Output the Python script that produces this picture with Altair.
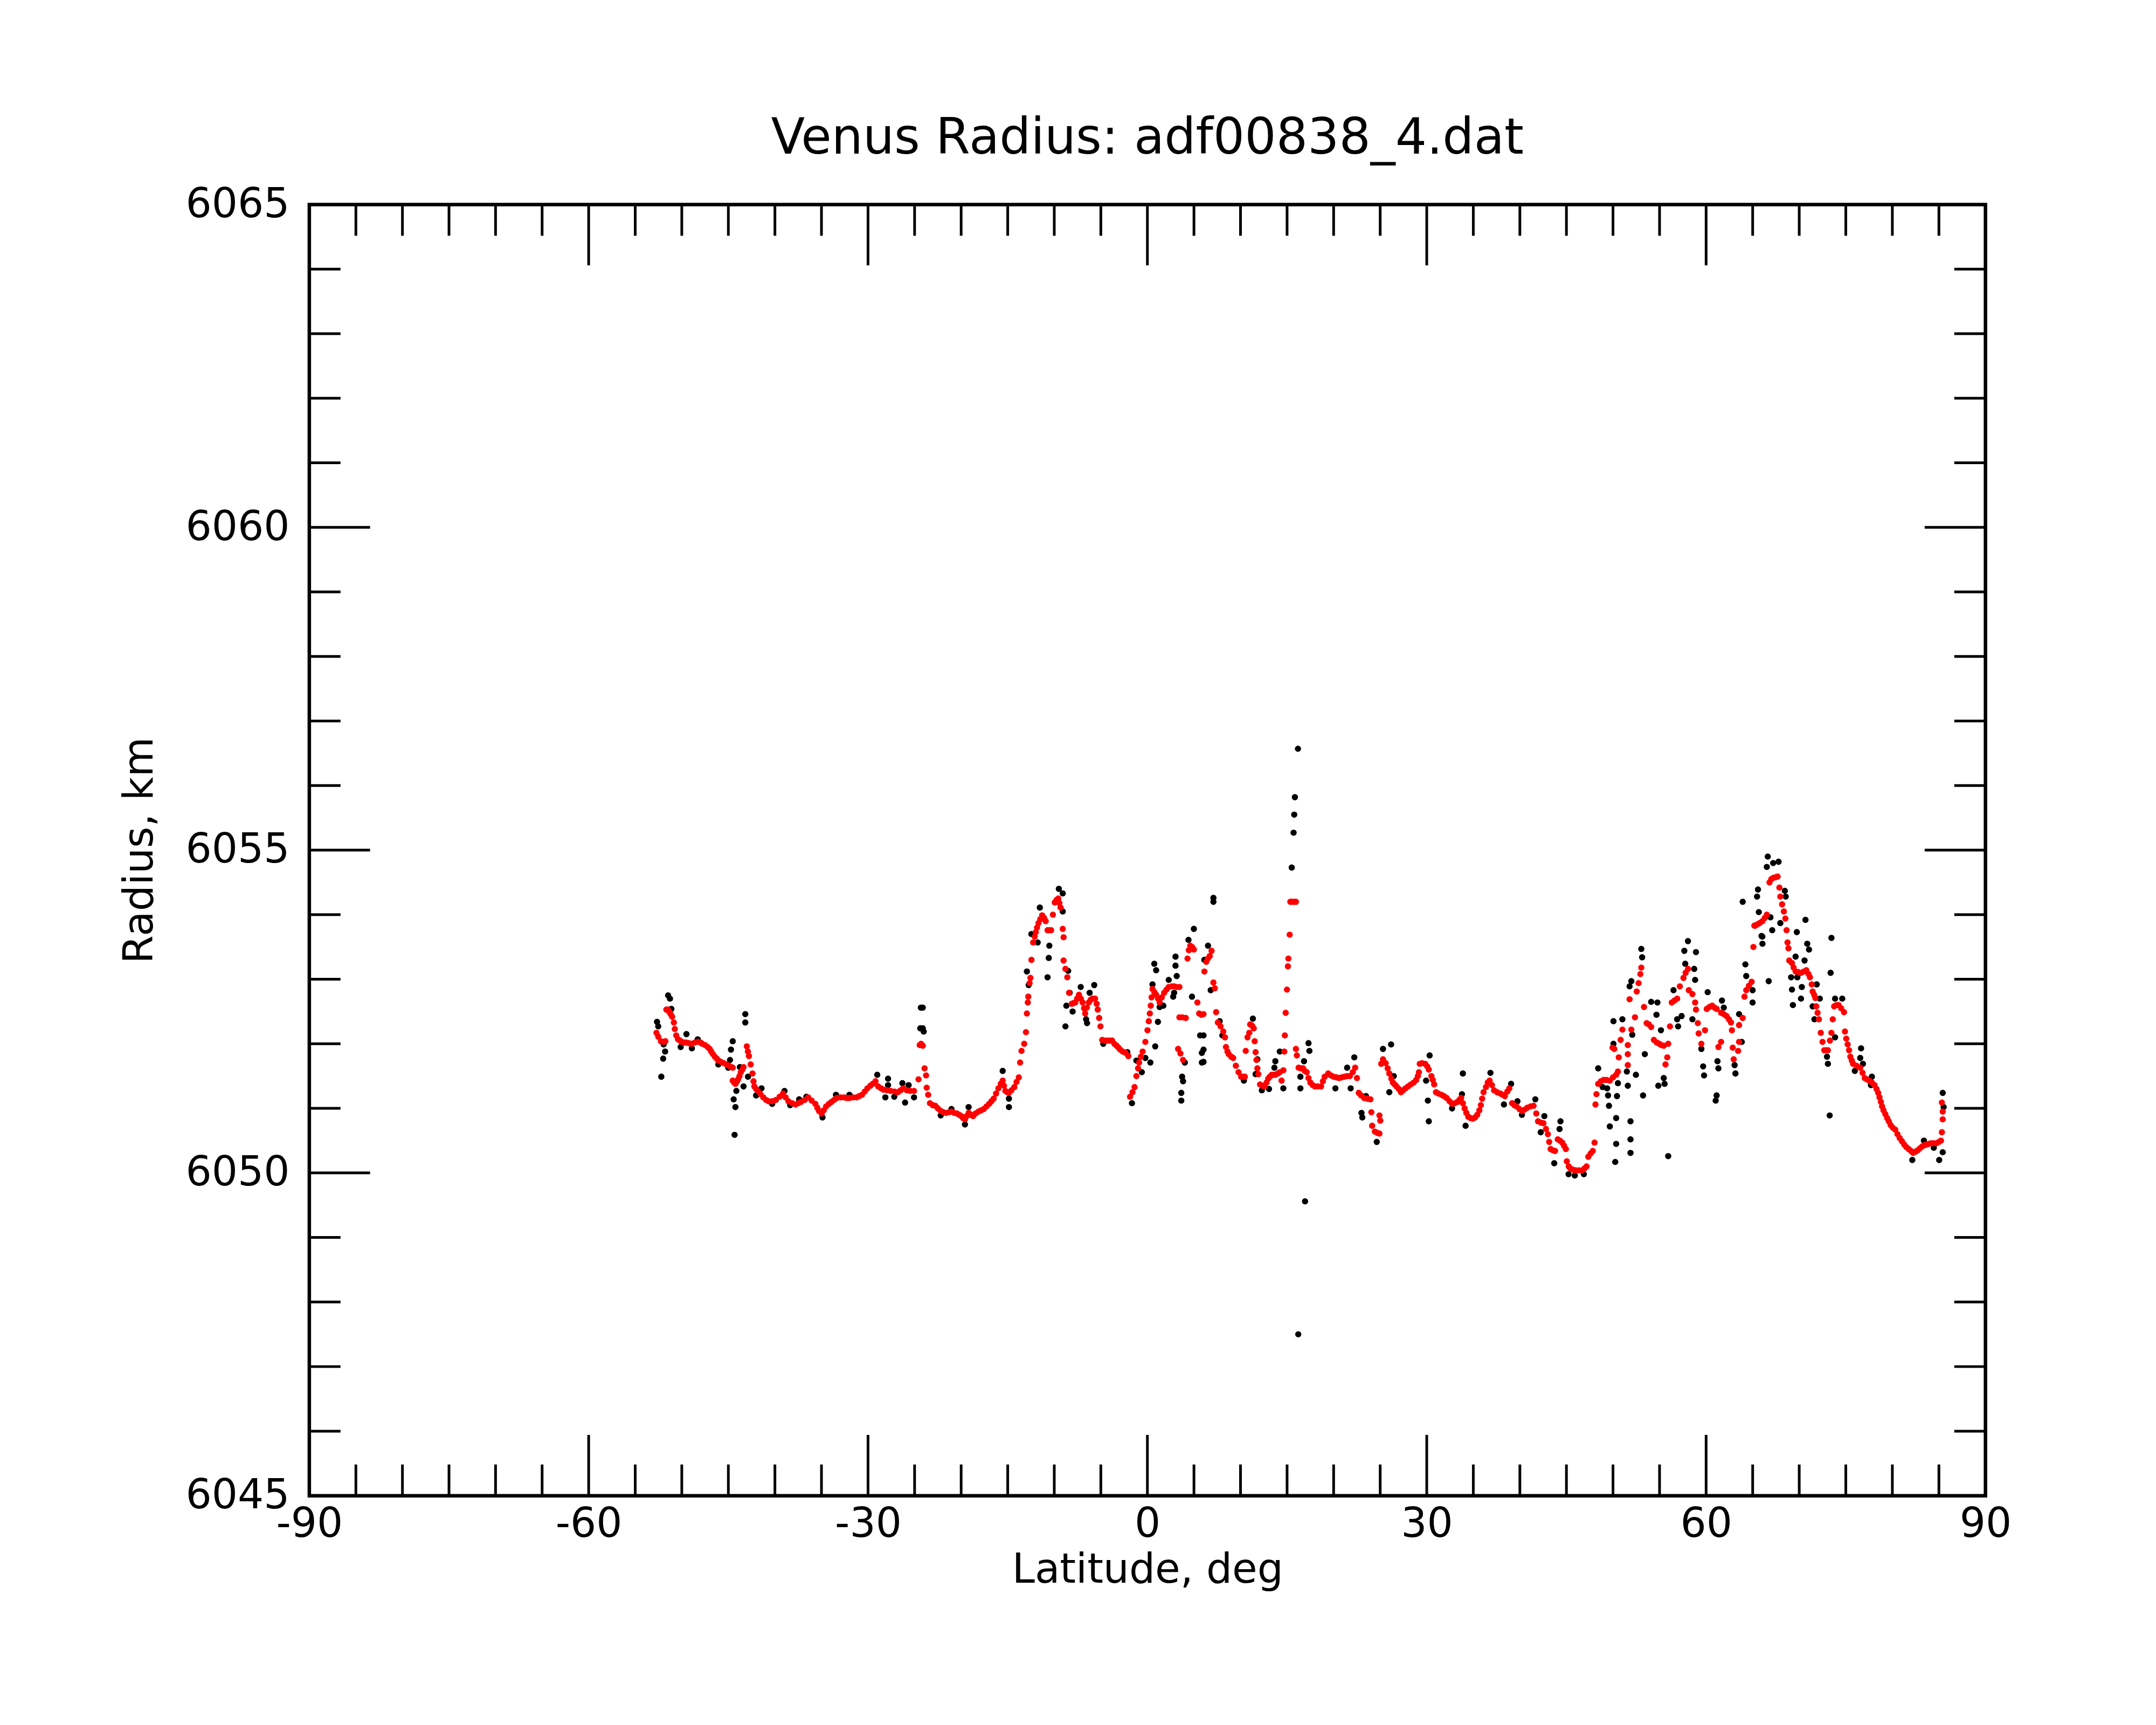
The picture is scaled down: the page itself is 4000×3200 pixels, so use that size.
import altair as alt
import pandas as pd

# ---------------- data ----------------
# smoothed radius (red), (latitude deg, radius km)
red_south = [
    (-52.72, 6052.17), (-52.53, 6052.11), (-52.24, 6052.04), (-51.95, 6052.03), (-51.76, 6052.04),
    (-51.66, 6052.53), (-51.5, 6052.53), (-51.37, 6052.50), (-51.2, 6052.46), (-51.04, 6052.42),
    (-50.85, 6052.33), (-50.75, 6052.23), (-50.6, 6052.13), (-50.41, 6052.07), (-50.2, 6052.05),
    (-50.02, 6052.03), (-49.75, 6052.02), (-49.54, 6052.02), (-49.25, 6052.01), (-48.96, 6052.0),
    (-48.6, 6052.02), (-48.29, 6052.03), (-48.0, 6052.02), (-47.8, 6052.0), (-47.5, 6051.98),
    (-47.22, 6051.95), (-47.0, 6051.92), (-46.84, 6051.88), (-46.65, 6051.84), (-46.45, 6051.80),
    (-46.25, 6051.77), (-46.07, 6051.74), (-45.8, 6051.72), (-45.49, 6051.70), (-45.2, 6051.68),
    (-44.91, 6051.66), (-44.7, 6051.64), (-44.53, 6051.63), (-44.53, 6051.43), (-44.38, 6051.40),
    (-44.24, 6051.38), (-44.1, 6051.41), (-43.95, 6051.45), (-43.8, 6051.50), (-43.66, 6051.56),
    (-43.5, 6051.60), (-43.37, 6051.64), (-43.02, 6051.96), (-42.9, 6051.88), (-42.79, 6051.81),
    (-42.6, 6051.68), (-42.41, 6051.54), (-42.3, 6051.42), (-42.21, 6051.34), (-42.02, 6051.30),
    (-41.83, 6051.27), (-41.55, 6051.22), (-41.25, 6051.17), (-40.95, 6051.13), (-40.67, 6051.11),
    (-40.3, 6051.11), (-39.9, 6051.13), (-39.5, 6051.18), (-39.13, 6051.23), (-38.85, 6051.17),
    (-38.55, 6051.11), (-38.15, 6051.08), (-37.78, 6051.06), (-37.5, 6051.08), (-37.2, 6051.10),
    (-36.8, 6051.13), (-36.43, 6051.17), (-36.05, 6051.12), (-35.66, 6051.07), (-35.45, 6051.01),
    (-35.27, 6050.96), (-34.99, 6050.92), (-34.75, 6050.97), (-34.5, 6051.03), (-34.2, 6051.07),
    (-33.93, 6051.10), (-33.65, 6051.13), (-33.35, 6051.16), (-32.95, 6051.17), (-32.58, 6051.17),
    (-32.3, 6051.16), (-32.0, 6051.16), (-31.6, 6051.17), (-31.23, 6051.17), (-30.95, 6051.19),
    (-30.65, 6051.21), (-30.35, 6051.26), (-30.07, 6051.31), (-29.75, 6051.35), (-29.49, 6051.38),
    (-29.2, 6051.42), (-28.91, 6051.34), (-28.6, 6051.31), (-28.34, 6051.29), (-27.95, 6051.28),
    (-27.56, 6051.27), (-27.15, 6051.26), (-26.79, 6051.25), (-26.5, 6051.28), (-26.22, 6051.31),
    (-25.83, 6051.28), (-25.45, 6051.27), (-25.06, 6051.27), (-24.58, 6051.45), (-24.45, 6051.98),
    (-24.3, 6052.0), (-24.12, 6051.97), (-23.93, 6051.62), (-23.77, 6051.51), (-23.7, 6051.32),
    (-23.54, 6051.21), (-23.35, 6051.08), (-23.05, 6051.05), (-22.77, 6051.04), (-22.5, 6051.0),
    (-22.19, 6050.96), (-21.9, 6050.94), (-21.61, 6050.93), (-21.3, 6050.94), (-21.04, 6050.95),
    (-20.75, 6050.93), (-20.46, 6050.92), (-20.2, 6050.90), (-19.98, 6050.88), (-19.8, 6050.85),
    (-19.59, 6050.83), (-19.4, 6050.88), (-19.19, 6050.93), (-18.95, 6050.90), (-18.72, 6050.88),
    (-18.45, 6050.92), (-18.14, 6050.95), (-17.85, 6050.97), (-17.57, 6050.99), (-17.28, 6051.03),
    (-16.99, 6051.07), (-16.75, 6051.11), (-16.51, 6051.15), (-16.25, 6051.23), (-16.0, 6051.31),
    (-15.75, 6051.38), (-15.54, 6051.43), (-15.4, 6051.35), (-15.25, 6051.27), (-15.05, 6051.25),
    (-14.87, 6051.24), (-14.6, 6051.28), (-14.29, 6051.33), (-14.05, 6051.41), (-13.81, 6051.48),
    (-13.67, 6051.71), (-13.52, 6051.89), (-13.23, 6052.0), (-13.04, 6052.18), (-12.94, 6052.47),
    (-12.84, 6052.64), (-12.79, 6052.73), (-12.65, 6052.94), (-12.56, 6053.02), (-12.45, 6053.3),
    (-12.27, 6053.57), (-12.1, 6053.66), (-11.98, 6053.73), (-11.85, 6053.80), (-11.69, 6053.87),
    (-11.5, 6053.93), (-11.3, 6053.99), (-11.1, 6053.95), (-10.92, 6053.90), (-10.72, 6053.76),
    (-10.55, 6053.76), (-10.34, 6053.76), (-10.15, 6054.0), (-9.95, 6054.19), (-9.75, 6054.23),
    (-9.57, 6054.25), (-9.45, 6054.18), (-9.32, 6054.11), (-9.09, 6053.78), (-9.0, 6053.65),
    (-9.0, 6053.29), (-8.8, 6053.16), (-8.6, 6053.03), (-8.41, 6052.79), (-8.12, 6052.62),
    (-7.95, 6052.63), (-7.74, 6052.64), (-7.55, 6052.70), (-7.35, 6052.76), (-7.15, 6052.70),
    (-6.96, 6052.64), (-6.8, 6052.55), (-6.68, 6052.47), (-6.5, 6052.56), (-6.29, 6052.64),
    (-6.1, 6052.68), (-5.9, 6052.70), (-5.62, 6052.70), (-5.45, 6052.62), (-5.33, 6052.53),
    (-5.18, 6052.40), (-5.04, 6052.27), (-4.85, 6052.06), (-4.55, 6052.05), (-4.27, 6052.05),
    (-4.0, 6052.05), (-3.79, 6052.05), (-3.55, 6052.0), (-3.3, 6051.97), (-3.1, 6051.94),
    (-2.92, 6051.91), (-2.65, 6051.88), (-2.34, 6051.86), (-2.05, 6051.81),
]
red_equator = [
    (-1.86, 6051.18), (-1.6, 6051.25), (-1.38, 6051.33), (-1.18, 6051.50), (-1.0, 6051.62),
    (-0.89, 6051.71), (-0.7, 6051.80), (-0.51, 6051.88), (-0.22, 6052.03), (0.01, 6052.21),
    (0.15, 6052.35), (0.26, 6052.47), (0.36, 6052.59), (0.45, 6052.72), (0.55, 6052.85),
    (0.75, 6052.80), (0.94, 6052.76), (1.15, 6052.70), (1.32, 6052.64), (1.55, 6052.72),
    (1.8, 6052.79), (2.05, 6052.84), (2.29, 6052.88), (2.6, 6052.89), (2.87, 6052.89),
    (3.15, 6052.88), (3.44, 6052.88), (3.44, 6052.41), (3.75, 6052.41), (4.12, 6052.40),
    (3.3, 6051.92), (3.55, 6051.85), (3.83, 6051.75), (4.31, 6053.32), (4.45, 6053.45),
    (4.6, 6053.52), (4.8, 6053.50), (4.99, 6053.46), (5.37, 6052.64), (5.56, 6052.47),
    (5.8, 6052.45), (6.03, 6052.46), (6.12, 6053.12), (6.32, 6053.27), (6.5, 6053.32),
    (6.7, 6053.36), (6.89, 6053.44), (7.09, 6052.95), (7.24, 6052.86), (7.38, 6052.49),
    (7.57, 6052.33), (7.86, 6052.27), (8.15, 6052.19), (8.34, 6052.10), (8.44, 6051.95),
    (8.6, 6051.88), (8.73, 6051.84), (9.0, 6051.80), (9.21, 6051.78), (9.5, 6051.66),
    (9.79, 6051.56), (10.07, 6051.49), (10.3, 6051.49), (10.46, 6051.49), (10.56, 6051.89),
    (10.75, 6052.10), (10.94, 6052.17), (11.04, 6052.30), (11.25, 6052.28), (11.42, 6052.24),
    (11.52, 6052.04), (11.62, 6051.87), (11.71, 6051.75), (11.81, 6051.62), (11.91, 6051.53),
    (12.1, 6051.37), (12.35, 6051.35), (12.58, 6051.34), (12.8, 6051.40), (12.97, 6051.46),
    (13.15, 6051.49), (13.35, 6051.52), (13.55, 6051.52), (13.74, 6051.52), (14.0, 6051.54),
    (14.22, 6051.56), (14.41, 6051.43), (14.6, 6051.59), (14.7, 6051.88), (14.76, 6052.13),
    (14.85, 6052.48), (14.99, 6052.84), (15.09, 6053.2), (15.14, 6053.32), (15.28, 6053.69),
    (15.35, 6054.2), (15.55, 6054.2), (15.75, 6054.2), (15.95, 6054.2),
    (15.95, 6051.92), (16.05, 6051.82), (16.24, 6051.63), (16.5, 6051.62), (16.72, 6051.62),
    (16.9, 6051.58), (17.11, 6051.56), (17.3, 6051.47), (17.5, 6051.40), (17.75, 6051.36),
    (17.98, 6051.34), (18.3, 6051.34), (18.65, 6051.34), (18.85, 6051.42), (19.04, 6051.49),
    (19.42, 6051.54), (19.7, 6051.51), (20.0, 6051.49), (20.3, 6051.48), (20.58, 6051.47),
    (20.85, 6051.48), (21.16, 6051.49), (21.45, 6051.50), (21.74, 6051.50), (22.05, 6051.56),
    (22.31, 6051.63), (22.51, 6051.47), (22.7, 6051.24), (22.95, 6051.20), (23.28, 6051.16),
    (23.6, 6051.15), (23.95, 6051.14), (24.05, 6050.94), (24.14, 6050.73), (24.43, 6050.64),
    (24.7, 6050.62), (24.92, 6050.61), (24.92, 6050.89), (25.01, 6050.81), (25.11, 6051.69),
    (25.3, 6051.76), (25.59, 6051.70), (25.8, 6051.62), (25.98, 6051.54), (26.2, 6051.46),
    (26.36, 6051.40), (26.55, 6051.37), (26.75, 6051.34), (27.0, 6051.30), (27.23, 6051.25),
    (27.45, 6051.28), (27.71, 6051.31), (28.0, 6051.34), (28.29, 6051.37), (28.6, 6051.40),
    (28.87, 6051.44), (29.05, 6051.50), (29.16, 6051.56), (29.25, 6051.69), (29.5, 6051.70),
    (29.83, 6051.69), (30.05, 6051.65), (30.22, 6051.6), (30.5, 6051.5), (30.65, 6051.44),
    (30.8, 6051.37), (30.99, 6051.25), (31.25, 6051.23), (31.57, 6051.21), (31.85, 6051.19),
    (32.14, 6051.16), (32.45, 6051.11), (32.72, 6051.07), (33.0, 6051.08), (33.3, 6051.10),
    (33.5, 6051.13), (33.69, 6051.16), (33.88, 6051.08), (34.07, 6051.0), (34.25, 6050.93),
    (34.46, 6050.87), (34.7, 6050.85), (34.94, 6050.84), (35.2, 6050.86), (35.42, 6050.90),
    (35.65, 6050.97), (35.81, 6051.05), (35.95, 6051.15), (36.1, 6051.25),
]
red_north = [
    (36.36, 6051.33), (36.55, 6051.40), (36.75, 6051.43), (37.0, 6051.36), (37.23, 6051.28),
    (37.55, 6051.25), (37.9, 6051.23), (38.15, 6051.21), (38.39, 6051.19), (38.65, 6051.26),
    (38.87, 6051.31), (39.16, 6051.08), (39.4, 6051.05), (39.64, 6051.03), (39.95, 6050.99),
    (40.22, 6050.96), (40.5, 6050.98), (40.8, 6051.01), (41.15, 6051.03), (41.47, 6051.04),
    (41.76, 6050.92), (41.95, 6050.80), (42.25, 6050.78), (42.53, 6050.77), (42.8, 6050.68),
    (43.01, 6050.6), (43.15, 6050.48), (43.3, 6050.37), (43.55, 6050.35), (43.78, 6050.34),
    (44.07, 6050.52), (44.3, 6050.50), (44.55, 6050.47), (44.75, 6050.42), (44.94, 6050.37),
    (45.04, 6050.18), (45.25, 6050.10), (45.42, 6050.07), (45.7, 6050.05), (46.0, 6050.04),
    (46.35, 6050.04), (46.68, 6050.04), (46.95, 6050.07), (47.16, 6050.1), (47.35, 6050.25),
    (47.6, 6050.30), (47.83, 6050.34), (48.02, 6050.47), (48.12, 6051.06), (48.22, 6051.22),
    (48.41, 6051.38), (48.7, 6051.42), (48.99, 6051.44), (49.3, 6051.44), (49.66, 6051.43),
    (50.0, 6051.48), (50.34, 6051.52), (50.53, 6051.57), (50.62, 6051.79), (49.95, 6051.94),
    (50.14, 6051.92), (50.82, 6052.06), (51.01, 6052.22), (51.59, 6051.98), (51.59, 6051.84),
    (51.59, 6051.67), (51.78, 6052.69), (51.97, 6052.22), (52.36, 6052.41), (52.55, 6052.81),
    (52.75, 6052.94), (52.94, 6053.08), (53.04, 6053.18), (53.33, 6052.57), (53.61, 6052.32),
    (53.85, 6052.30), (54.1, 6052.26), (54.39, 6052.06), (54.7, 6052.02), (54.97, 6052.0),
    (55.2, 6051.98), (55.45, 6051.97), (55.64, 6051.68), (55.83, 6051.79), (55.93, 6052.0),
    (56.12, 6052.27), (56.31, 6052.64), (56.6, 6052.67), (56.89, 6052.70), (57.18, 6052.89),
    (57.57, 6053.02), (57.8, 6053.10), (58.05, 6053.16), (58.14, 6052.83), (58.53, 6052.77),
    (58.82, 6052.64), (58.91, 6052.53), (59.11, 6052.32), (59.2, 6052.16), (59.49, 6052.0),
    (59.88, 6052.21), (60.07, 6052.54), (60.35, 6052.57), (60.65, 6052.59), (60.9, 6052.56),
    (61.13, 6052.54), (61.32, 6051.95), (61.61, 6052.03), (61.61, 6052.48), (61.9, 6052.46),
    (62.19, 6052.43), (62.45, 6052.38), (62.67, 6052.33), (62.77, 6052.21), (62.86, 6051.94),
    (62.96, 6051.76), (63.44, 6051.89), (63.54, 6052.03), (63.54, 6052.29), (63.93, 6052.4),
    (64.12, 6052.73), (64.31, 6052.83), (64.6, 6052.90), (64.89, 6052.96), (65.08, 6053.5),
    (65.18, 6053.83), (65.28, 6053.83), (65.5, 6053.85), (65.75, 6053.87), (66.04, 6053.90),
    (66.3, 6053.95), (66.52, 6054.0), (66.81, 6054.5), (67.0, 6054.55), (67.2, 6054.57),
    (67.45, 6054.58), (67.68, 6054.59), (67.87, 6054.42), (67.97, 6054.28), (68.16, 6054.16),
    (68.35, 6054.05), (68.51, 6053.94), (68.64, 6053.76), (68.74, 6053.57), (68.84, 6053.48),
    (68.93, 6053.29), (69.22, 6053.25), (69.4, 6053.18), (69.61, 6053.12), (69.9, 6053.11),
    (70.19, 6053.10), (70.5, 6053.12), (70.76, 6053.14), (71.0, 6053.08), (71.15, 6053.03),
    (71.34, 6052.92), (71.44, 6052.81), (71.6, 6052.76), (71.73, 6052.71), (71.83, 6052.58),
    (71.97, 6052.48), (72.11, 6052.38), (72.31, 6052.17), (72.5, 6052.03), (72.69, 6051.9),
    (72.9, 6051.9), (73.08, 6051.9), (73.3, 6052.05), (73.46, 6052.17), (73.6, 6052.38),
    (73.75, 6052.58), (74.0, 6052.60), (74.23, 6052.6), (74.5, 6052.55), (74.81, 6052.49),
    (74.91, 6052.19), (75.05, 6052.08), (75.2, 6051.99), (75.35, 6051.9), (75.49, 6051.8),
    (75.65, 6051.74), (75.78, 6051.69), (76.15, 6051.66), (76.55, 6051.63), (76.8, 6051.55),
    (77.03, 6051.47), (77.25, 6051.45), (77.51, 6051.43), (77.8, 6051.40), (78.09, 6051.36),
    (78.3, 6051.30), (78.48, 6051.24), (78.62, 6051.17), (78.77, 6051.1), (78.9, 6051.03),
    (79.05, 6050.97), (79.25, 6050.91), (79.44, 6050.85), (79.62, 6050.80), (79.82, 6050.74),
    (80.05, 6050.70), (80.31, 6050.67), (80.55, 6050.60), (80.79, 6050.54), (81.03, 6050.49),
    (81.27, 6050.44), (81.5, 6050.40), (81.75, 6050.37), (82.0, 6050.34), (82.23, 6050.31),
    (82.5, 6050.33), (82.72, 6050.35), (82.95, 6050.38), (83.2, 6050.41), (83.45, 6050.43),
    (83.68, 6050.44), (83.9, 6050.45), (84.16, 6050.46), (84.45, 6050.46), (84.74, 6050.46),
    (85.0, 6050.48), (85.22, 6050.5), (85.32, 6050.63), (85.41, 6050.83), (85.41, 6050.95),
    (85.32, 6051.09),
]

# raw radius (black), (latitude deg, radius km)
black_south = [
    (-52.66, 6052.34), (-52.53, 6052.27), (-51.95, 6051.99), (-51.79, 6051.88), (-52.0, 6051.77),
    (-52.2, 6051.49), (-51.47, 6052.75), (-51.27, 6052.70), (-51.12, 6052.54), (-50.12, 6051.95),
    (-49.5, 6052.15), (-48.92, 6051.93), (-48.29, 6052.07), (-46.07, 6051.68), (-45.01, 6051.63),
    (-44.53, 6052.04), (-44.72, 6051.91), (-44.82, 6051.75), (-44.14, 6051.27), (-44.43, 6051.14),
    (-44.24, 6051.02), (-44.33, 6050.59), (-43.18, 6052.46), (-43.18, 6052.33), (-42.89, 6051.49),
    (-43.37, 6051.34), (-43.76, 6051.64), (-42.02, 6051.2), (-41.44, 6051.31), (-40.29, 6051.07),
    (-38.97, 6051.27), (-38.36, 6051.05), (-37.4, 6051.14), (-36.62, 6051.18), (-34.89, 6050.86),
    (-33.44, 6051.21), (-32.0, 6051.21), (-29.01, 6051.52), (-27.85, 6051.46), (-27.85, 6051.36),
    (-28.14, 6051.17), (-27.18, 6051.18), (-26.31, 6051.39), (-25.64, 6051.36), (-26.02, 6051.09),
    (-25.06, 6051.17), (-24.33, 6052.56), (-24.39, 6052.24),
    (-24.12, 6052.56), (-24.12, 6052.24), (-24.02, 6052.19), (-14.87, 6051.02), (-14.87, 6051.15),
    (-15.54, 6051.58), (-19.59, 6050.75), (-19.2, 6051.02), (-21.04, 6050.99), (-22.19, 6050.89),
    (-12.94, 6053.12), (-12.75, 6052.91), (-12.46, 6053.7), (-11.78, 6053.57), (-11.55, 6054.11),
    (-10.53, 6053.52), (-10.59, 6053.33), (-10.72, 6053.03), (-9.51, 6054.40), (-9.09, 6054.33),
    (-9.09, 6054.05), (-8.51, 6053.13), (-8.35, 6052.79), (-8.8, 6052.27), (-8.7, 6052.59),
    (-8.03, 6052.50), (-7.16, 6052.88), (-6.48, 6052.32), (-6.58, 6052.38), (-5.71, 6052.91),
    (-6.2, 6052.79), (-4.74, 6052.0), (-2.15, 6051.87),
]
black_equator = [
    (-1.66, 6051.08), (-1.18, 6051.74), (-0.6, 6051.56), (-0.22, 6051.78), (0.32, 6051.71),
    (0.84, 6051.96), (1.13, 6052.34), (0.55, 6052.92), (0.74, 6053.24), (0.94, 6053.14),
    (1.32, 6052.57), (1.71, 6052.59), (2.29, 6052.99), (2.87, 6052.79), (2.77, 6052.73),
    (3.02, 6053.35), (3.02, 6053.21), (3.15, 6053.05), (3.73, 6051.49), (3.83, 6051.42),
    (3.64, 6051.24), (3.64, 6051.12), (4.02, 6051.71), (4.41, 6053.61), (4.99, 6053.78),
    (4.79, 6052.73), (5.66, 6052.13), (5.85, 6051.71), (5.85, 6051.86),
    (7.09, 6054.26), (7.09, 6054.2), (6.51, 6053.52), (6.12, 6053.3), (6.8, 6052.83),
    (6.03, 6052.13), (6.03, 6051.91), (6.03, 6051.72), (7.76, 6052.35), (8.05, 6052.13),
    (10.36, 6051.43), (11.33, 6052.39), (11.81, 6051.76), (11.62, 6051.53), (12.29, 6051.28),
    (13.06, 6051.3), (13.64, 6051.63), (13.74, 6051.73), (14.6, 6051.31), (14.22, 6051.88),
    (16.43, 6051.31), (16.43, 6051.49), (16.82, 6051.73), (17.3, 6052.01), (17.4, 6051.89),
    (20.19, 6051.31), (21.45, 6051.63), (22.22, 6051.79), (21.83, 6051.31), (22.99, 6050.93),
    (23.08, 6050.86), (23.47, 6051.19), (24.63, 6050.48), (25.3, 6051.92), (26.17, 6051.99),
    (25.98, 6051.25), (26.46, 6051.5), (30.31, 6051.82), (30.12, 6051.12), (30.22, 6050.8),
    (29.93, 6051.43), (33.88, 6051.54), (33.78, 6051.22), (34.17, 6050.73), (32.72, 6051.0),
]
black_spike = [
    (16.17, 6056.57), (15.84, 6055.82), (15.77, 6055.55), (15.7, 6055.27), (15.5, 6054.73),
    (16.93, 6049.56), (16.2, 6047.5),
]
black_north = [
    (36.84, 6051.55), (38.29, 6051.06), (39.06, 6051.38), (39.74, 6051.11), (40.22, 6050.9),
    (41.66, 6051.14), (42.63, 6050.88), (42.24, 6050.63), (44.36, 6050.8), (44.26, 6050.68),
    (43.69, 6050.15), (45.23, 6049.98), (45.9, 6049.96), (46.87, 6049.98), (48.41, 6051.62),
    (48.89, 6051.33), (49.37, 6051.31), (49.47, 6051.2), (49.57, 6051.04), (49.66, 6050.72),
    (50.34, 6050.85), (50.34, 6050.45), (50.24, 6050.17), (50.43, 6051.19), (50.53, 6051.39),
    (50.05, 6052.35), (51.01, 6052.38), (50.05, 6052.0), (51.49, 6051.57), (51.59, 6051.35),
    (51.88, 6050.8), (51.88, 6050.52), (51.88, 6050.31), (52.46, 6051.52), (52.07, 6052.14),
    (51.78, 6052.89), (51.97, 6052.97), (53.04, 6053.47), (53.13, 6053.34), (53.42, 6051.84),
    (53.23, 6051.2), (54.1, 6052.65), (54.77, 6052.64), (54.67, 6052.45), (55.15, 6052.21),
    (55.45, 6051.47), (54.87, 6051.35), (55.93, 6050.26), (55.54, 6051.38), (56.5, 6052.83),
    (56.89, 6052.38), (57.37, 6052.43), (56.99, 6052.27), (57.66, 6053.44), (58.05, 6053.59),
    (58.91, 6053.42), (57.76, 6053.24), (58.82, 6052.99), (58.72, 6053.16), (58.53, 6052.38),
    (59.49, 6051.92), (59.68, 6051.65), (59.78, 6051.51), (60.17, 6052.8), (61.7, 6052.67),
    (61.9, 6052.56), (61.22, 6051.73), (61.32, 6051.62), (61.13, 6051.2), (61.03, 6051.12),
    (63.06, 6051.67), (63.15, 6051.54), (63.54, 6052.46), (63.83, 6052.03), (63.93, 6054.2),
    (64.22, 6053.23), (64.31, 6053.05), (64.99, 6052.64), (64.99, 6052.83), (65.47, 6054.28),
    (65.57, 6054.39), (65.66, 6054.04), (65.95, 6053.67), (66.05, 6053.55),
    (66.72, 6052.97), (66.62, 6054.9), (66.52, 6054.74), (67.2, 6054.8), (67.78, 6054.82),
    (67.1, 6053.76), (66.04, 6053.66), (66.91, 6053.96), (67.97, 6053.87), (68.45, 6054.37),
    (68.55, 6054.28), (69.61, 6053.35), (69.13, 6053.03), (69.22, 6052.84), (69.32, 6052.6),
    (69.8, 6053.03), (70.28, 6052.88), (70.19, 6052.7), (70.57, 6053.29), (70.67, 6053.92),
    (70.86, 6053.55), (71.05, 6053.46), (69.74, 6053.73), (71.88, 6052.92), (71.44, 6052.58),
    (72.21, 6052.7), (71.63, 6052.38), (72.98, 6051.8), (73.08, 6051.69), (73.46, 6053.64),
    (73.37, 6053.1), (73.27, 6050.89), (73.85, 6052.7), (74.62, 6052.7), (73.85, 6052.1),
    (76.64, 6051.93), (76.55, 6051.78), (76.84, 6051.69), (75.97, 6051.58), (77.8, 6051.49),
    (77.7, 6051.36), (82.14, 6050.2), (83.39, 6050.5), (85.03, 6050.2), (85.41, 6050.32),
    (85.41, 6051.24), (85.51, 6051.02), (84.45, 6050.39),
]

x_major_ticks = [-60, -30, 0, 30, 60]
x_minor_ticks = [-85, -80, -75, -70, -65, -55, -50, -45, -40, -35, -25, -20, -15, -10, -5,
                 5, 10, 15, 20, 25, 35, 40, 45, 50, 55, 65, 70, 75, 80, 85]
y_major_ticks = [6050, 6055, 6060]
y_minor_ticks = [6046, 6047, 6048, 6049, 6051, 6052, 6053, 6054, 6056, 6057, 6058, 6059,
                 6061, 6062, 6063, 6064]
x_labels = [-90, -60, -30, 0, 30, 60, 90]
y_labels = [6045, 6050, 6055, 6060, 6065]

# ---------------- chart ----------------
W, H = 3116, 2400
MAJOR, MINOR = 113, 58
FONT = "DejaVu Sans"

red = pd.DataFrame(red_south + red_equator + red_north, columns=["lat", "r"])
black = pd.DataFrame(black_south + black_equator + black_spike + black_north, columns=["lat", "r"])

xs = alt.Scale(domain=[-90, 90], nice=False, zero=False)
ys = alt.Scale(domain=[6045, 6065], nice=False, zero=False)

common = dict(ticks=False, domain=False, grid=False, labelFlush=False, labelOverlap=False,
              labelLimit=1000, labelFont=FONT, titleFont=FONT, labelFontSize=76,
              titleFontSize=76, titleFontWeight="normal", labelColor="black",
              titleColor="black")
x_axis = alt.Axis(values=x_labels, labelPadding=16, title="Latitude, deg", titlePadding=10,
                  labelExpr="datum.value < 0 ? '-' + abs(datum.value) : '' + datum.value",
                  **common)
y_axis = alt.Axis(values=y_labels, labelPadding=37, title="Radius, km", titlePadding=76,
                  labelExpr="'' + datum.value", **common)

black_layer = alt.Chart(black).mark_circle(size=135, color="#000000", opacity=1).encode(
    x=alt.X("lat:Q", scale=xs, axis=x_axis),
    y=alt.Y("r:Q", scale=ys, axis=y_axis),
)
red_layer = alt.Chart(red).mark_circle(size=135, color="#ff0000", opacity=1).encode(
    x=alt.X("lat:Q", scale=xs),
    y=alt.Y("r:Q", scale=ys),
)

def xticks(vals, length):
    df = pd.DataFrame({"lat": vals})
    base = alt.Chart(df).mark_rule(color="black", strokeWidth=5)
    bottom = base.encode(x=alt.X("lat:Q", scale=xs), y=alt.value(H), y2=alt.value(H - length))
    top = base.encode(x=alt.X("lat:Q", scale=xs), y=alt.value(0), y2=alt.value(length))
    return [bottom, top]

def yticks(vals, length):
    df = pd.DataFrame({"r": vals})
    base = alt.Chart(df).mark_rule(color="black", strokeWidth=5)
    left = base.encode(y=alt.Y("r:Q", scale=ys), x=alt.value(0), x2=alt.value(length))
    right = base.encode(y=alt.Y("r:Q", scale=ys), x=alt.value(W), x2=alt.value(W - length))
    return [left, right]

layers = ([black_layer, red_layer]
          + xticks(x_major_ticks, MAJOR) + xticks(x_minor_ticks, MINOR)
          + yticks(y_major_ticks, MAJOR) + yticks(y_minor_ticks, MINOR))

chart = alt.layer(*layers).properties(
    width=W, height=H,
    background="white",
    title=alt.TitleParams("Venus Radius: adf00838_4.dat", fontSize=92, font=FONT,
                          fontWeight="normal", color="black", offset=38, anchor="middle"),
    autosize=alt.AutoSizeParams(type="none"),
    padding={"left": 567, "top": 369, "right": 309, "bottom": 415},
).configure_view(
    stroke="black", strokeWidth=6.5, fill="white"
)

chart.save("out.html", embed_options={"renderer": "svg", "actions": False})
